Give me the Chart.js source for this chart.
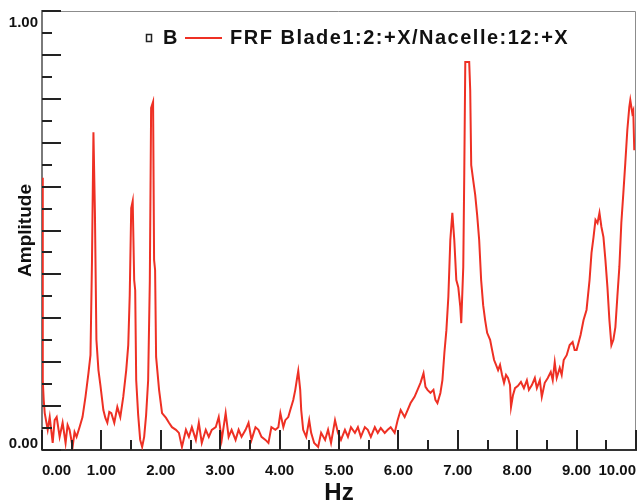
<!DOCTYPE html>
<html>
<head>
<meta charset="utf-8">
<title>FRF Blade1:2:+X/Nacelle:12:+X</title>
<script src="https://cdn.jsdelivr.net/npm/chart.js@4.4.1/dist/chart.umd.min.js"></script>
<style>
    html, body { margin: 0; padding: 0; background: #fff; }
</style>
</head>
<body>
<canvas id="frfChart" width="640" height="501"></canvas>
<script>
// values
const freqHz = [
    0.000, 0.013, 0.029, 0.046, 0.096, 0.130, 0.180, 0.213, 0.247, 0.297,
    0.347, 0.397, 0.431, 0.464, 0.515, 0.548, 0.582, 0.632, 0.682, 0.732,
    0.782, 0.816, 0.841, 0.866, 0.891, 0.916, 0.950, 0.983, 1.033, 1.067,
    1.100, 1.133, 1.167, 1.217, 1.268, 1.318, 1.368, 1.418, 1.452, 1.477,
    1.502, 1.527, 1.552, 1.569, 1.586, 1.619, 1.653, 1.686, 1.720, 1.753,
    1.787, 1.815, 1.837, 1.870, 1.887, 1.904, 1.921, 1.971, 2.021, 2.088,
    2.138, 2.188, 2.255, 2.305, 2.356, 2.423, 2.473, 2.523, 2.590, 2.640,
    2.690, 2.757, 2.808, 2.858, 2.925, 2.975, 3.025, 3.092, 3.142, 3.192,
    3.259, 3.310, 3.360, 3.427, 3.477, 3.527, 3.594, 3.644, 3.695, 3.762,
    3.812, 3.862, 3.929, 3.979, 4.013, 4.063, 4.096, 4.146, 4.180, 4.230,
    4.264, 4.297, 4.314, 4.347, 4.364, 4.397, 4.448, 4.498, 4.531, 4.582,
    4.649, 4.699, 4.766, 4.816, 4.866, 4.933, 4.983, 5.033, 5.100, 5.151,
    5.201, 5.268, 5.318, 5.368, 5.435, 5.485, 5.536, 5.603, 5.653, 5.703,
    5.770, 5.820, 5.870, 5.937, 5.987, 6.038, 6.105, 6.155, 6.205, 6.272,
    6.322, 6.372, 6.423, 6.456, 6.490, 6.540, 6.590, 6.623, 6.657, 6.707,
    6.741, 6.774, 6.808, 6.841, 6.874, 6.908, 6.941, 6.975, 7.008, 7.042,
    7.058, 7.092, 7.109, 7.126, 7.192, 7.209, 7.226, 7.259, 7.293, 7.326,
    7.360, 7.393, 7.427, 7.460, 7.494, 7.544, 7.577, 7.611, 7.644, 7.678,
    7.711, 7.745, 7.778, 7.812, 7.845, 7.879, 7.896, 7.929, 7.963, 8.013,
    8.063, 8.113, 8.163, 8.197, 8.247, 8.297, 8.331, 8.381, 8.414, 8.464,
    8.515, 8.565, 8.598, 8.632, 8.665, 8.716, 8.749, 8.783, 8.833, 8.883,
    8.933, 8.967, 9.000, 9.067, 9.117, 9.167, 9.218, 9.251, 9.285, 9.318,
    9.352, 9.385, 9.418, 9.452, 9.485, 9.519, 9.552, 9.586, 9.619, 9.653,
    9.686, 9.720, 9.753, 9.787, 9.820, 9.854, 9.887, 9.904, 9.937, 9.954,
    9.971
];

const amplitude = [
    0.620, 0.159, 0.114, 0.084, 0.046, 0.075, 0.016, 0.068, 0.075, 0.030,
    0.062, 0.016, 0.057, 0.046, 0.007, 0.041, 0.030, 0.052, 0.075, 0.121,
    0.175, 0.216, 0.426, 0.724, 0.540, 0.251, 0.182, 0.148, 0.091, 0.073,
    0.062, 0.087, 0.084, 0.062, 0.098, 0.075, 0.121, 0.182, 0.239, 0.353,
    0.551, 0.567, 0.387, 0.364, 0.159, 0.080, 0.023, 0.007, 0.030, 0.080,
    0.159, 0.383, 0.779, 0.793, 0.433, 0.410, 0.212, 0.137, 0.084, 0.073,
    0.062, 0.052, 0.046, 0.039, 0.007, 0.046, 0.030, 0.052, 0.023, 0.062,
    0.016, 0.046, 0.030, 0.046, 0.052, 0.075, 0.023, 0.084, 0.030, 0.046,
    0.023, 0.046, 0.030, 0.046, 0.062, 0.023, 0.052, 0.046, 0.030, 0.023,
    0.016, 0.052, 0.046, 0.052, 0.084, 0.052, 0.068, 0.075, 0.091, 0.114,
    0.137, 0.166, 0.180, 0.137, 0.091, 0.046, 0.030, 0.068, 0.039, 0.016,
    0.007, 0.039, 0.023, 0.046, 0.016, 0.068, 0.039, 0.023, 0.046, 0.030,
    0.052, 0.039, 0.052, 0.030, 0.052, 0.046, 0.030, 0.052, 0.039, 0.050,
    0.039, 0.046, 0.052, 0.039, 0.068, 0.091, 0.075, 0.091, 0.107, 0.121,
    0.137, 0.153, 0.175, 0.144, 0.137, 0.130, 0.137, 0.114, 0.107, 0.130,
    0.159, 0.221, 0.273, 0.349, 0.478, 0.540, 0.478, 0.387, 0.371, 0.326,
    0.289, 0.417, 0.631, 0.884, 0.884, 0.820, 0.649, 0.615, 0.581, 0.535,
    0.478, 0.387, 0.330, 0.296, 0.267, 0.251, 0.228, 0.205, 0.194, 0.182,
    0.194, 0.171, 0.153, 0.171, 0.164, 0.148, 0.098, 0.125, 0.141, 0.146,
    0.155, 0.141, 0.159, 0.137, 0.148, 0.164, 0.141, 0.159, 0.121, 0.153,
    0.164, 0.178, 0.159, 0.200, 0.164, 0.187, 0.171, 0.205, 0.216, 0.239,
    0.246, 0.228, 0.228, 0.262, 0.296, 0.319, 0.387, 0.449, 0.485, 0.524,
    0.517, 0.540, 0.508, 0.485, 0.433, 0.371, 0.296, 0.239, 0.251, 0.280,
    0.349, 0.417, 0.517, 0.585, 0.654, 0.729, 0.781, 0.797, 0.768, 0.774,
    0.683
];

const xTickLabels = ["0.00", "1.00", "2.00", "3.00", "4.00", "5.00",
                     "6.00", "7.00", "8.00", "9.00", "10.00"];
const yLabelValues = [0, 1];
const yTickLabels = ["0.00", "1.00"];

const markerLabel = "B";
const seriesLabel = "FRF Blade1:2:+X/Nacelle:12:+X";

const lineColor = "rgb(238, 48, 36)";
const textColor = "#111";
const fontFamily = "'Liberation Sans', Arial, sans-serif";


// inward tick marks, top/right frame, y end labels and the legend
const frameAndTicks = {
    id: "frameAndTicks",
    afterDatasetsDraw(chart) {
        const { ctx, chartArea: area, scales: { x, y } } = chart;
        ctx.save();

        ctx.strokeStyle = "#8c8c8c";
        ctx.lineWidth = 1;
        ctx.beginPath();
        ctx.moveTo(area.left, area.top + 0.5);
        ctx.lineTo(area.right - 0.5, area.top + 0.5);
        ctx.lineTo(area.right - 0.5, area.bottom);
        ctx.stroke();

        ctx.strokeStyle = "#222";
        ctx.lineWidth = 2;
        x.ticks.forEach(t => {
            const px = Math.round(x.getPixelForValue(t.value));
            const len = Number.isInteger(t.value) ? 20 : 10;
            ctx.beginPath();
            ctx.moveTo(px, area.bottom);
            ctx.lineTo(px, area.bottom - len);
            ctx.stroke();
        });
        y.ticks.forEach(t => {
            const py = Math.round(y.getPixelForValue(t.value));
            const len = Math.round(t.value * 100) % 10 === 0 ? 19 : 10;
            ctx.beginPath();
            ctx.moveTo(area.left, py);
            ctx.lineTo(area.left + len, py);
            ctx.stroke();
        });

        // y labels sit inside the axis ends
        ctx.fillStyle = textColor;
        ctx.font = "bold 15px " + fontFamily;
        ctx.textAlign = "right";
        yLabelValues.forEach((v, i) => {
            const py = y.getPixelForValue(v);
            if (v === y.max) {
                ctx.textBaseline = "top";
                ctx.fillText(yTickLabels[i], area.left - 4, py + 4);
            } else {
                ctx.textBaseline = "alphabetic";
                ctx.fillText(yTickLabels[i], area.left - 4, py - 2);
            }
        });

        // legend
        const ly = area.top + 27;
        ctx.strokeStyle = "#222";
        ctx.lineWidth = 1.5;
        ctx.strokeRect(146.5, ly - 3.5, 5, 7);

        ctx.font = "bold 20px " + fontFamily;
        ctx.textAlign = "left";
        ctx.textBaseline = "middle";
        ctx.fillText(markerLabel, 163, ly);

        ctx.strokeStyle = lineColor;
        ctx.lineWidth = 2;
        ctx.beginPath();
        ctx.moveTo(185, ly);
        ctx.lineTo(222, ly);
        ctx.stroke();

        ctx.letterSpacing = "1.5px";
        ctx.fillText(seriesLabel, 230, ly);

        ctx.restore();
    }
};


new Chart(document.getElementById("frfChart"), {
    type: "line",
    data: {
        datasets: [{
            label: seriesLabel,
            data: freqHz.map((f, i) => ({ x: f, y: amplitude[i] })),
            borderColor: lineColor,
            borderWidth: 2,
            pointRadius: 0,
            tension: 0,
            fill: false
        }]
    },
    options: {
        responsive: false,
        animation: false,
        layout: {
            padding: { top: 11, right: 2, left: 0, bottom: 0 }
        },
        plugins: {
            legend: { display: false },
            tooltip: { enabled: false }
        },
        scales: {
            x: {
                type: "linear",
                min: 0,
                max: 10,
                afterFit: scale => { scale.height = 51; },
                grid: { display: false },
                border: { display: true, color: "#333", width: 2 },
                ticks: {
                    stepSize: 0.5,
                    autoSkip: false,
                    maxRotation: 0,
                    align: "inner",
                    padding: 4,
                    color: textColor,
                    font: { size: 15, weight: "bold", family: fontFamily },
                    callback: value => Number.isInteger(value) ? xTickLabels[value] : ""
                },
                title: {
                    display: true,
                    text: "Hz",
                    color: textColor,
                    padding: { top: 0, bottom: -4 },
                    font: { size: 24, weight: "bold", family: fontFamily, lineHeight: 1 }
                }
            },
            y: {
                min: 0,
                max: 1,
                afterFit: scale => { scale.width = 42; },
                grid: { display: false },
                border: { display: true, color: "#7a7a7a", width: 2 },
                ticks: {
                    stepSize: 0.05,
                    display: false
                },
                title: {
                    display: true,
                    text: "Amplitude",
                    color: textColor,
                    padding: { top: 14, bottom: 0 },
                    font: { size: 19, weight: "bold", family: fontFamily }
                }
            }
        }
    },
    plugins: [frameAndTicks]
});
</script>
</body>
</html>
